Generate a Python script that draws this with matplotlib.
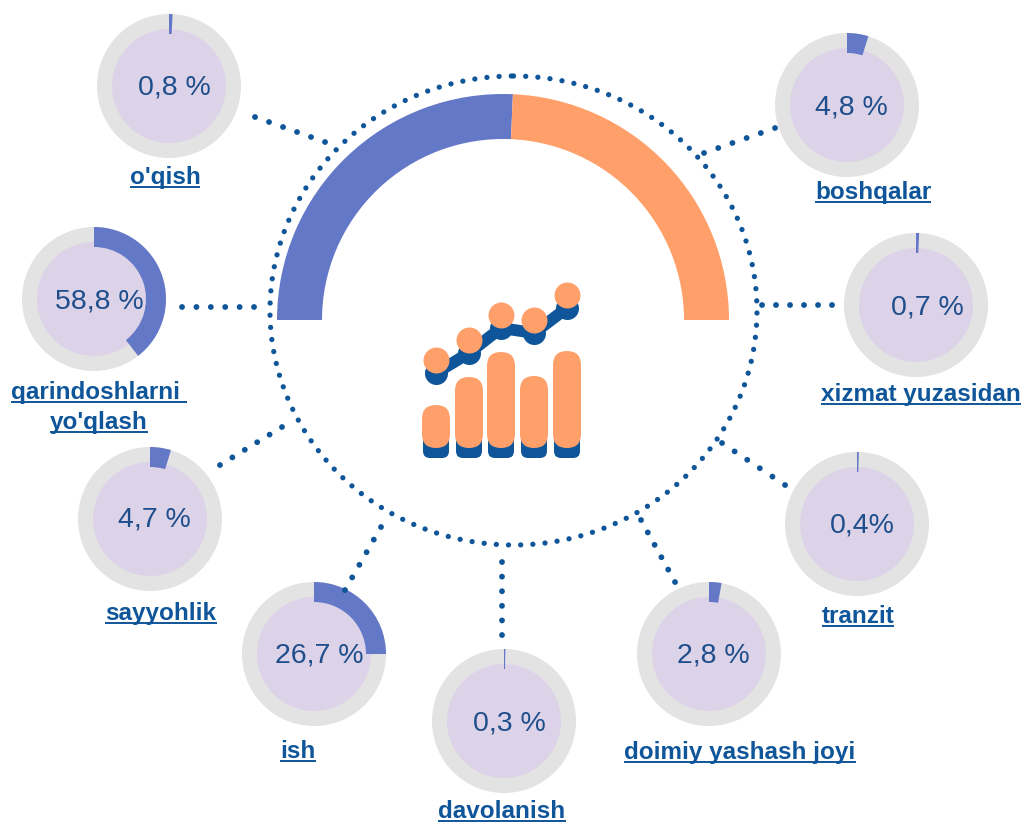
#!/usr/bin/env python3
import matplotlib
matplotlib.use("Agg")
import matplotlib.pyplot as plt
from matplotlib.patches import Wedge, Circle, Ellipse, FancyBboxPatch
from math import hypot

plt.rcParams['font.family'] = ['Liberation Sans', 'DejaVu Sans']

# data
labels = ["o'qish", "boshqalar", "xizmat yuzasidan", "tranzit", "doimiy yashash joyi",
          "davolanish", "ish", "sayyohlik", "qarindoshlarni \nyo'qlash"]
value_text = ["0,8 %", "4,8 %", "0,7 %", "0,4%", "2,8 %", "0,3 %", "26,7 %", "4,7 %", "58,8 %"]
# share of the ring as it is drawn in the picture (the two big ones are not to scale)
arc_share = [0.8, 4.8, 0.7, 0.4, 2.8, 0.3, 25.0, 4.7, 39.5]
gauge_share = [51.4, 48.6]
icon_bars = [43, 71, 96, 72, 97]
icon_line = [90, 110, 135, 130, 155]

# layout, pixels
centers = [(169, 86), (847, 105), (916, 305), (857, 524), (709, 654),
           (504, 721), (314, 654), (150, 519), (94, 299)]
value_pos = [(174, 87), (851, 107), (927, 307), (862, 526), (713, 656),
             (509, 723), (319, 656), (154, 520), (99, 302)]
label_pos = [(165, 184), (873, 199), (921, 401), (858, 623), (740, 759),
             (502, 818), (298, 758), (161, 620), (99, 414)]
links = [((255, 117), (325, 142)), ((704, 153), (775, 128)), ((762, 305), (832, 305)),
         ((722, 443), (785, 485)), ((641, 520), (675, 582)), ((502, 562), (502, 635)),
         ((381, 527), (345, 590)), ((282, 427), (220, 465)), ((182, 307), (254, 307))]
icon_x = [436, 469, 501, 534, 567]
icon_base = 448

GREY = "#E4E3E3"
LILAC = "#DDD3E8"
BLUE = "#6478C8"
ORANGE = "#FFA06A"
DARK = "#0F5599"
TXT = "#1F4E8C"

fig = plt.figure(figsize=(10.23, 8.23), dpi=100)
ax = fig.add_axes([0, 0, 1, 1])
ax.set_xlim(0, 1023)
ax.set_ylim(823, 0)
ax.set_aspect("equal")
ax.axis("off")

# big half ring
R = 226
start = 180
for share, col in zip(gauge_share, [BLUE, ORANGE]):
    end = start + 180 * share / 100
    ax.add_patch(Wedge((503, 320), R, start, end, width=45, fc=col, ec="none"))
    start = end

# dotted circle + connectors
ax.add_patch(Ellipse((513.5, 310.5), 487, 469, fc="none", ec=DARK, lw=3.8,
                     ls=(0, (0.01, 2.3)), capstyle="round"))
link_lw = 4.2
for a, b in links:
    # fit the dots so the last one lands on the end of the line, 2 px overshoot keeps it
    dx, dy = b[0] - a[0], b[1] - a[1]
    length = hypot(dx, dy)
    gap = length / round(length / 14) / (link_lw * 100 / 72)
    ax.plot([a[0], b[0] + 2 * dx / length], [a[1], b[1] + 2 * dy / length], color=DARK,
            lw=link_lw, ls=(0, (0.01, gap - 0.01)), dash_capstyle="round")

# small rings
for (cx, cy), share in zip(centers, arc_share):
    ax.add_patch(Circle((cx, cy), 72, fc=GREY, ec="none"))
    ax.add_patch(Circle((cx, cy), 57, fc=LILAC, ec="none"))
    ax.add_patch(Wedge((cx, cy), 72, -90, -90 + 360 * share / 100, width=20, fc=BLUE, ec="none"))
for (x, y), s in zip(value_pos, value_text):
    ax.text(x, y, s, color=TXT, fontsize=20.5, ha="center", va="center")

# labels, underlined by hand
fig.canvas.draw()
rend = fig.canvas.get_renderer()
inv = ax.transData.inverted()
for (x, y), s in zip(label_pos, labels):
    for i, part in enumerate(s.split("\n")):
        yy = y + i * 30 - (15 if "\n" in s else 0)
        t = ax.text(x, yy, part, color=DARK, fontsize=17.5, fontweight="bold", ha="center",
                    va="baseline")
        bb = t.get_window_extent(rend)
        x0 = inv.transform((bb.x0, 0))[0]
        x1 = inv.transform((bb.x1, 0))[0]
        ax.plot([x0, x1], [yy + 3, yy + 3], color=DARK, lw=1.4, solid_capstyle="butt")

# icon
bw = 28
for x, h in zip(icon_x, icon_bars):
    top = icon_base - h
    ax.add_patch(FancyBboxPatch((x - bw / 2 + 1, icon_base - 25), bw - 2, 35,
                                boxstyle="round,pad=0,rounding_size=7", fc=DARK, ec="none"))
    ax.add_patch(FancyBboxPatch((x - bw / 2, top), bw, h,
                                boxstyle="round,pad=0,rounding_size=14", fc=ORANGE, ec="none"))
line_y = [463 - v for v in icon_line]
ax.plot(icon_x, line_y, color=DARK, lw=8.5, solid_joinstyle="round", zorder=3)
ax.scatter(icon_x, line_y, s=275, color=DARK, zorder=3, linewidths=0)
ax.scatter(icon_x, [y - 13 for y in line_y], s=350, color=ORANGE, zorder=4, linewidths=0)

fig.savefig("out.png", dpi=100)
